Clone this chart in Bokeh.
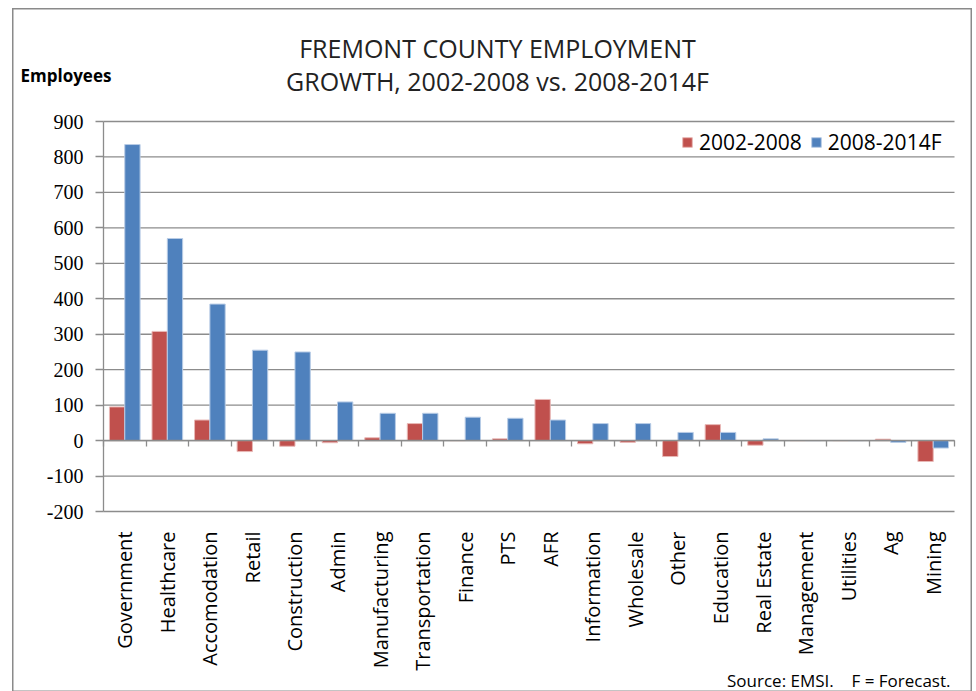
import math
import numpy as np
from bokeh.plotting import figure
from bokeh.models import (ColumnDataSource, Range1d, LinearAxis, FixedTicker, Legend, LegendItem, Label)
from bokeh.transform import dodge
from bokeh.embed import file_html
from bokeh.resources import INLINE

categories = ["Government", "Healthcare", "Accomodation", "Retail", "Construction", "Admin",
              "Manufacturing", "Transportation", "Finance", "PTS", "AFR", "Information",
              "Wholesale", "Other", "Education", "Real Estate", "Management", "Utilities",
              "Ag", "Mining"]
growth_2002_2008 = [95, 308, 58, -31, -16, -6, 8, 48, 0, 5, 116, -9, -5, -45, 45, -13, 0, 0, 4, -59]
growth_2008_2014F = [835, 570, 385, 255, 250, 109, 77, 77, 66, 63, 58, 48, 48, 23, 23, 5, 0, 0, -5, -21]
series_names = ["2002-2008", "2008-2014F"]
y_min, y_max, y_step = -200, 900, 100

RED = "#C0504D"
BLUE = "#4F81BD"
GRID = "#8C8C8C"

# ---- page geometry (pixels) ----
CL, CT = 12, 8            # canvas left/top on page
W, H = 960, 684           # canvas size
PL, PR, PT, PB = 103, 954, 121, 511   # chart area edges on page

n = len(categories)
xu = (PR - PL) / n
yu = (PB - PT) / (y_max - y_min)
x_start = 0 - (PL - CL) / xu
x_end = n + (CL + W - PR) / xu
y_end = y_max + (PT - CT) / yu
y_start = y_min - (CT + H - PB) / yu

centers = np.arange(n) + 0.5
src = ColumnDataSource(dict(x=centers, a=growth_2002_2008, b=growth_2008_2014F))

p = figure(x_range=Range1d(x_start, x_end), y_range=Range1d(y_start, y_end),
           width=W, height=H, output_backend="svg", toolbar_location=None,
           x_axis_location=None, y_axis_location=None, min_border=0)
p.styles = {"margin-left": f"{CL}px", "margin-top": f"{CT}px"}
p.outline_line_color = "#8A8A8A"
p.outline_line_width = 2
p.background_fill_color = "white"
p.xgrid.visible = False
p.ygrid.visible = False

# Gridlines at every y tick, spanning the category area
grid_ticks = list(range(y_min, y_max + 1, y_step))
p.segment(x0=[0] * len(grid_ticks), x1=[n] * len(grid_ticks), y0=grid_ticks, y1=grid_ticks,
          line_color=GRID, line_width=1.3, level="underlay")

# Bars
r1 = p.vbar(x=dodge("x", -0.18), top="a", width=0.36, source=src,
            fill_color=RED, line_color="#E8B8B6", line_width=1)
r2 = p.vbar(x=dodge("x", 0.18), top="b", width=0.36, source=src,
            fill_color=BLUE, line_color="#B8CCE6", line_width=1)

# Y axis
yax = LinearAxis(fixed_location=0, bounds=(y_min, y_max), ticker=FixedTicker(ticks=grid_ticks))
yax.major_label_overrides = {t: str(t) for t in grid_ticks}
yax.axis_line_color = GRID
yax.axis_line_width = 1.3
yax.major_tick_line_color = GRID
yax.major_tick_line_width = 1.3
yax.major_tick_out = 8
yax.major_tick_in = 0
yax.minor_tick_line_color = None
yax.major_label_text_font = "Liberation Serif"
yax.major_label_text_font_size = "20px"
yax.major_label_text_color = "black"
yax.major_label_standoff = 12
p.add_layout(yax, "left")

# Category labels
cax = LinearAxis(fixed_location=y_min, bounds=(0, n), ticker=FixedTicker(ticks=list(centers)))
cax.major_label_overrides = {float(c): cat for c, cat in zip(centers, categories)}
cax.axis_line_color = None
cax.major_tick_line_color = None
cax.minor_tick_line_color = None
cax.major_label_orientation = math.pi / 2
cax.major_label_text_font = "Open Sans"
cax.major_label_text_font_size = "20px"
cax.major_label_text_color = "black"
cax.major_label_standoff = 14
p.add_layout(cax, "below")

# Zero line with tick marks at category boundaries
zax = LinearAxis(fixed_location=0, bounds=(0, n), ticker=FixedTicker(ticks=list(range(n + 1))))
zax.axis_line_color = GRID
zax.axis_line_width = 1.3
zax.major_tick_line_color = GRID
zax.major_tick_line_width = 1.3
zax.major_tick_out = 6
zax.major_tick_in = 0
zax.minor_tick_line_color = None
zax.major_label_text_font_size = "0px"
zax.major_label_text_alpha = 0
p.add_layout(zax, "below")

def sx(px):
    return px - CL

def sy(py):
    return CT + H - py

# Legend (location = bottom-left corner, screen px from canvas bottom-left)
legend = Legend(items=[LegendItem(label=series_names[0], renderers=[r1]),
                       LegendItem(label=series_names[1], renderers=[r2])],
                orientation="horizontal", location=(sx(681), sy(156)),
                label_text_font="Open Sans", label_text_font_size="21px",
                label_text_color="black", glyph_width=12, glyph_height=12,
                border_line_color=None, background_fill_color="white", background_fill_alpha=1,
                margin=0, padding=5, spacing=8, label_standoff=6)
p.add_layout(legend)

# Title and notes
p.add_layout(Label(x=sx(497), y=sy(47), x_units="screen", y_units="screen",
                   text="FREMONT COUNTY EMPLOYMENT", text_align="center", text_baseline="middle",
                   text_font="Open Sans", text_font_size="25px", text_color="#222222"))
p.add_layout(Label(x=sx(497), y=sy(80), x_units="screen", y_units="screen",
                   text="GROWTH, 2002-2008 vs. 2008-2014F", text_align="center", text_baseline="middle",
                   text_font="Open Sans", text_font_size="25px", text_color="#222222"))
p.add_layout(Label(x=sx(20), y=sy(75), x_units="screen", y_units="screen",
                   text="Employees", text_align="left", text_baseline="middle",
                   text_font="Open Sans", text_font_size="17px", text_font_style="bold",
                   text_color="black"))
p.add_layout(Label(x=sx(950), y=sy(680), x_units="screen", y_units="screen",
                   text="Source: EMSI.\u00a0\u00a0\u00a0 F = Forecast.", text_align="right",
                   text_baseline="middle",
                   text_font="Open Sans", text_font_size="17px", text_color="black"))

open("out.html", "w").write(file_html(p, INLINE))
